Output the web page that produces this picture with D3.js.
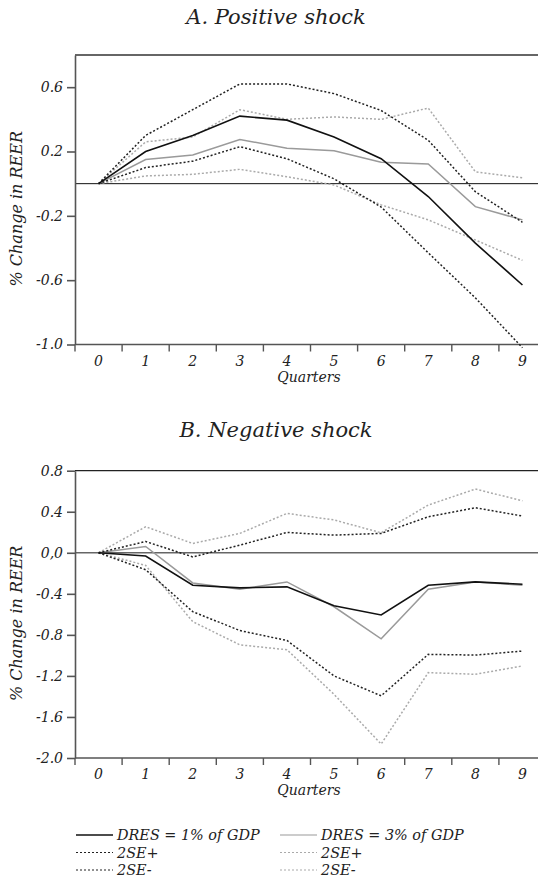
<!DOCTYPE html>
<html>
<head>
<meta charset="utf-8">
<script src="https://cdn.jsdelivr.net/npm/d3@7"></script>
<style>
  html, body { margin: 0; padding: 0; background: #fff; }
  svg { display: block; }
  text { font-family: "DejaVu Serif", serif; font-style: italic; fill: #222; }
  .axis path, .axis line { stroke: #555; }
  .axis text { font-size: 14px; }
</style>
</head>
<body>
<svg id="chart" width="538" height="885"></svg>
<script>
const quarters = [0, 1, 2, 3, 4, 5, 6, 7, 8, 9];

// Panel A: positive shock
const posDres1 = [0, 0.20, 0.30, 0.42, 0.395, 0.29, 0.155, -0.08, -0.37, -0.63];
const posDres1Up = [0, 0.30, 0.46, 0.62, 0.62, 0.56, 0.455, 0.27, -0.05, -0.24];
const posDres1Lo = [0, 0.10, 0.14, 0.23, 0.155, 0.03, -0.145, -0.43, -0.71, -1.02];
const posDres3 = [0, 0.15, 0.178, 0.275, 0.22, 0.205, 0.133, 0.122, -0.143, -0.225];
const posDres3Up = [0, 0.26, 0.29, 0.46, 0.40, 0.415, 0.40, 0.47, 0.074, 0.037];
const posDres3Lo = [0, 0.048, 0.058, 0.089, 0.043, -0.008, -0.132, -0.225, -0.35, -0.477];
const posTicks = [-1.0, -0.6, -0.2, 0.2, 0.6];
const posTickLabels = ["-1.0", "-0.6", "-0.2", "0.2", "0.6"];

// Panel B: negative shock
const negDres1 = [0, -0.032, -0.316, -0.342, -0.332, -0.516, -0.606, -0.316, -0.284, -0.306];
const negDres1Up = [0, 0.11, -0.04, 0.075, 0.198, 0.172, 0.189, 0.351, 0.439, 0.358];
const negDres1Lo = [0, -0.165, -0.574, -0.758, -0.855, -1.2, -1.394, -0.99, -0.997, -0.958];
const negDres3 = [0, 0.061, -0.294, -0.355, -0.284, -0.526, -0.839, -0.355, -0.284, -0.316];
const negDres3Up = [0, 0.254, 0.091, 0.189, 0.384, 0.32, 0.195, 0.465, 0.621, 0.507];
const negDres3Lo = [0, -0.123, -0.671, -0.897, -0.945, -1.38, -1.864, -1.168, -1.184, -1.103];
const negTicks = [-2.0, -1.6, -1.2, -0.8, -0.4, 0.0, 0.4, 0.8];
const negTickLabels = ["-2.0", "-1.6", "-1.2", "-0.8", "-0.4", "0,0", "0.4", "0.8"];

const legendItems = [
  { label: "DRES = 1% of GDP", style: "dres1" },
  { label: "DRES = 3% of GDP", style: "dres3" },
  { label: "2SE+", style: "dres1se" },
  { label: "2SE+", style: "dres3se" },
  { label: "2SE-", style: "dres1se" },
  { label: "2SE-", style: "dres3se" }
];

const lineStyles = {
  dres1: { stroke: "#111", width: 1.6, dash: null },
  dres3: { stroke: "#9a9a9a", width: 1.5, dash: null },
  dres1se: { stroke: "#222", width: 1.5, dash: "2,2" },
  dres3se: { stroke: "#aaa", width: 1.5, dash: "2,2" }
};

const svg = d3.select("#chart");
const left = 75;
const step = 47.1;

const x = d3
  .scaleLinear()
  .domain([-0.5, 9.5])
  .range([left, left + step * 10]);

function drawPanel(cfg) {
  const y = d3.scaleLinear().domain(cfg.domain).range(cfg.range);
  const g = svg.append("g");

  g.append("text")
    .attr("x", 276)
    .attr("y", cfg.titleY)
    .attr("text-anchor", "middle")
    .style("font-size", "21px")
    .text(cfg.title);

  // top border
  g.append("line")
    .attr("x1", left)
    .attr("x2", 538)
    .attr("y1", y(cfg.domain[1]))
    .attr("y2", y(cfg.domain[1]))
    .attr("stroke", cfg.borderColor)
    .attr("stroke-width", cfg.borderWidth);

  // zero line
  g.append("line")
    .attr("x1", left)
    .attr("x2", 538)
    .attr("y1", y(0))
    .attr("y2", y(0))
    .attr("stroke", cfg.zeroColor)
    .attr("stroke-width", cfg.zeroWidth);

  g.append("g")
    .attr("class", "axis")
    .attr("transform", `translate(${left},0)`)
    .call(
      d3
        .axisLeft(y)
        .tickValues(cfg.ticks)
        .tickFormat((d, i) => cfg.tickLabels[i])
        .tickSize(8)
        .tickSizeOuter(0)
        .tickPadding(4)
    )
    .call((a) => a.selectAll("path, line").attr("stroke-width", 1.6));

  const xAxis = g
    .append("g")
    .attr("class", "axis")
    .attr("transform", `translate(0,${cfg.range[0]})`);

  xAxis
    .append("line")
    .attr("x1", left)
    .attr("x2", 538)
    .attr("stroke-width", 1.6);

  xAxis
    .selectAll(".qtick")
    .data(quarters)
    .enter()
    .append("line")
    .attr("class", "qtick")
    .attr("x1", (d) => x(d - 0.5))
    .attr("x2", (d) => x(d - 0.5))
    .attr("y1", 0)
    .attr("y2", 7)
    .attr("stroke-width", 1.4);

  xAxis
    .selectAll(".qlabel")
    .data(quarters)
    .enter()
    .append("text")
    .attr("class", "qlabel")
    .attr("x", (d) => x(d))
    .attr("y", 21)
    .attr("text-anchor", "middle")
    .text((d) => d);

  xAxis
    .append("text")
    .attr("x", 309)
    .attr("y", 37)
    .attr("text-anchor", "middle")
    .text("Quarters");

  g.append("text")
    .attr(
      "transform",
      `translate(21.5,${(cfg.range[0] + cfg.range[1]) / 2 + 9}) rotate(-90)`
    )
    .attr("text-anchor", "middle")
    .style("font-size", "16px")
    .text("% Change in REER");

  const line = d3
    .line()
    .x((d, i) => x(quarters[i]))
    .y((d) => y(d));

  cfg.series.forEach((s) => {
    const st = lineStyles[s.style];
    g.append("path")
      .datum(s.values)
      .attr("fill", "none")
      .attr("stroke", st.stroke)
      .attr("stroke-width", st.width)
      .attr("stroke-dasharray", st.dash)
      .attr("d", line);
  });
}

drawPanel({
  title: "A. Positive shock",
  titleY: 24,
  domain: [-1.0, 0.8],
  range: [344.5, 55],
  ticks: posTicks,
  tickLabels: posTickLabels,
  borderColor: "#666",
  borderWidth: 2,
  zeroColor: "#111",
  zeroWidth: 1,
  series: [
    { values: posDres3Up, style: "dres3se" },
    { values: posDres3Lo, style: "dres3se" },
    { values: posDres3, style: "dres3" },
    { values: posDres1Up, style: "dres1se" },
    { values: posDres1Lo, style: "dres1se" },
    { values: posDres1, style: "dres1" }
  ]
});

drawPanel({
  title: "B. Negative shock",
  titleY: 437,
  domain: [-2.0, 0.8],
  range: [758, 470.7],
  ticks: negTicks,
  tickLabels: negTickLabels,
  borderColor: "#222",
  borderWidth: 1.2,
  zeroColor: "#666",
  zeroWidth: 1.6,
  series: [
    { values: negDres3Up, style: "dres3se" },
    { values: negDres3Lo, style: "dres3se" },
    { values: negDres3, style: "dres3" },
    { values: negDres1Up, style: "dres1se" },
    { values: negDres1Lo, style: "dres1se" },
    { values: negDres1, style: "dres1" }
  ]
});

// legend, two columns
const legend = svg.append("g").attr("transform", "translate(0,835)");
legendItems.forEach((d, i) => {
  const col = i % 2;
  const row = Math.floor(i / 2);
  const st = lineStyles[d.style];
  const lx = col === 0 ? 76 : 280;
  const ly = row * 17.5;
  legend
    .append("line")
    .attr("x1", lx)
    .attr("x2", lx + 37)
    .attr("y1", ly)
    .attr("y2", ly)
    .attr("stroke", st.stroke)
    .attr("stroke-width", st.width - 0.3)
    .attr("stroke-dasharray", st.dash);
  legend
    .append("text")
    .attr("x", lx + 41)
    .attr("y", ly + 5)
    .style("font-size", "14.4px")
    .text(d.label);
});
</script>
</body>
</html>
